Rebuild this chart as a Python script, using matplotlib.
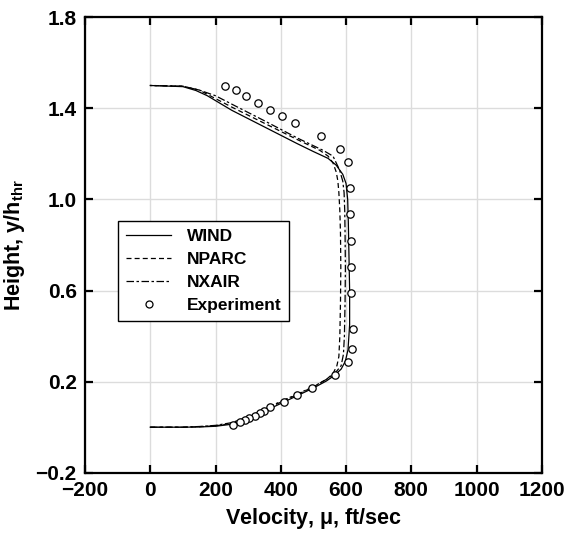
import matplotlib
matplotlib.use("Agg")
import matplotlib.pyplot as plt

plt.rcParams['font.family'] = ['Liberation Sans', 'DejaVu Sans']
plt.rcParams['font.weight'] = 'bold'
plt.rcParams['mathtext.fontset'] = 'custom'
plt.rcParams['mathtext.rm'] = 'Liberation Sans'
plt.rcParams['mathtext.bf'] = 'Liberation Sans:bold'

# ---- data ----
wind_vel = [0, 100, 150, 200, 250, 300, 350, 400, 450, 500, 540, 565, 585, 598, 606, 611, 611, 609, 607, 605,
            600, 590, 570, 545, 500, 450, 350, 250, 175, 140, 100, 0]
wind_hgt = [0, 0.0, 0.001, 0.004, 0.013, 0.036, 0.07, 0.104, 0.138, 0.172, 0.203, 0.228, 0.255, 0.29, 0.34,
            0.45, 0.6, 0.75, 0.9, 1.0, 1.07, 1.11, 1.15, 1.18, 1.21, 1.245, 1.318, 1.391, 1.455, 1.478, 1.495, 1.5]

nparc_vel = [0, 100, 150, 200, 250, 300, 350, 400, 450, 500, 540, 560, 572, 578, 581, 583, 584, 583, 581, 578,
             575, 570, 560, 545, 520, 450, 350, 250, 150, 100, 0]
nparc_hgt = [0, 0.0, 0.002, 0.006, 0.017, 0.041, 0.076, 0.11, 0.143, 0.177, 0.21, 0.235, 0.27, 0.31, 0.4, 0.55,
             0.7, 0.85, 0.95, 1.03, 1.08, 1.12, 1.16, 1.19, 1.215, 1.263, 1.334, 1.405, 1.48, 1.497, 1.5]

nxair_vel = [0, 100, 150, 200, 250, 300, 350, 400, 450, 500, 540, 565, 585, 592, 595, 597, 598, 597, 596, 594,
             590, 580, 560, 530, 450, 350, 250, 200, 150, 100, 0]
nxair_hgt = [0, 0.0, 0.003, 0.008, 0.02, 0.045, 0.08, 0.113, 0.145, 0.178, 0.21, 0.235, 0.27, 0.32, 0.4, 0.55,
             0.7, 0.85, 0.95, 1.03, 1.08, 1.13, 1.19, 1.215, 1.27, 1.345, 1.418, 1.455, 1.48, 1.497, 1.5]

exp_vel = [228, 264, 293, 329, 367, 404, 445, 524, 580, 606, 611, 611, 615, 616, 616, 620, 618, 606, 567,
           497, 449, 410, 368, 350, 335, 320, 304, 291, 276, 255]
exp_hgt = [1.498, 1.480, 1.453, 1.424, 1.392, 1.365, 1.336, 1.279, 1.221, 1.162, 1.048, 0.934, 0.818, 0.704,
           0.587, 0.429, 0.343, 0.287, 0.228, 0.170, 0.141, 0.112, 0.087, 0.073, 0.061, 0.049, 0.039, 0.031,
           0.024, 0.009]

xticks = [-200, 0, 200, 400, 600, 800, 1000, 1200]
yticks = [-0.2, 0.2, 0.6, 1.0, 1.4, 1.8]

fig = plt.figure(figsize=(5.82, 5.36), dpi=100)
ax = fig.add_axes([0.146, 0.118, 0.785, 0.850])

ax.plot(wind_vel, wind_hgt, color='black', lw=0.9, ls='-', label='WIND')
ax.plot(nparc_vel, nparc_hgt, color='black', lw=0.9, ls=(0, (4, 2.5)), label='NPARC')
ax.plot(nxair_vel, nxair_hgt, color='black', lw=0.9, ls=(0, (6, 2, 2, 2)), label='NXAIR')
ax.plot(exp_vel, exp_hgt, ls='none', marker='o', ms=5.3, mfc='white', mec='black', mew=0.9,
        label='Experiment')

ax.set_xlim(-200, 1200)
ax.set_ylim(-0.2, 1.8)
ax.set_xticks(xticks)
ax.set_yticks(yticks)
ax.set_yticklabels([f"{v:.1f}".replace('-', '\u2212') for v in yticks])
ax.grid(True, color='#dcdcdc', lw=1.0)
ax.set_axisbelow(True)

for s in ax.spines.values():
    s.set_linewidth(1.6)
ax.tick_params(direction='in', length=6, width=1.6, top=True, right=True,
               labelsize=15, pad=6)
for lab in ax.get_xticklabels() + ax.get_yticklabels():
    lab.set_fontweight('bold')

ax.set_xlabel(r'Velocity, $\mathrm{\mu}$, ft/sec', fontsize=15.5, fontweight='bold', labelpad=4)
ax.set_ylabel(r'Height, y/h$_{\mathbf{thr}}$', fontsize=15.5, fontweight='bold', labelpad=6)

leg = ax.legend(loc='lower left', bbox_to_anchor=(0.073, 0.334), borderaxespad=0, fontsize=12.5,
                frameon=True, fancybox=False, edgecolor='black', framealpha=1, handlelength=2.6,
                handletextpad=0.9, labelspacing=0.45, borderpad=0.45, markerscale=0.95)
leg.get_frame().set_linewidth(1.0)
for t in leg.get_texts():
    t.set_fontweight('bold')

fig.savefig('out.png', dpi=100)
